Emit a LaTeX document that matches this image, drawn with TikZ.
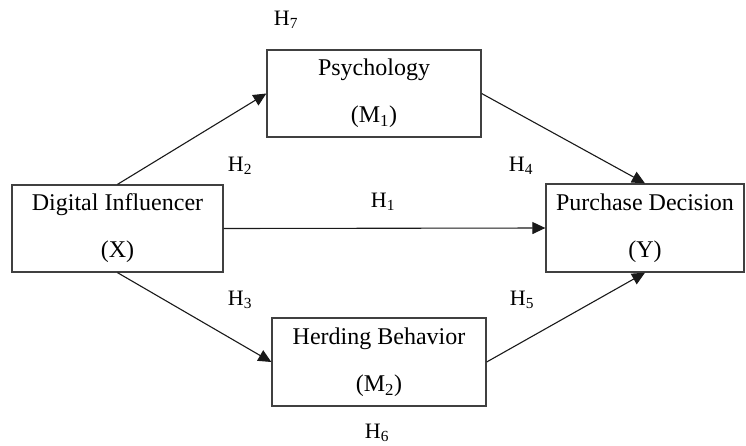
\documentclass[tikz,border=0pt]{standalone}
\usepackage{fontspec}
\setmainfont{Liberation Serif}
\usepackage{tikz}
\usetikzlibrary{arrows.meta}
\tikzset{var/.style={draw=black!75, line width=1.3pt, align=center, font=\fontsize{24}{29}\selectfont, inner sep=0pt},
  path/.style={draw=black!90, line width=1.1pt, -{Triangle[length=13pt,width=12pt]}},
  hyp/.style={font=\fontsize{22}{26}\selectfont, inner sep=0pt}}

\begin{document}
\begin{tikzpicture}[x=1pt, y=-1pt]
\useasboundingbox (0,0) rectangle (746,445);
 \node[var, minimum width=211pt, minimum height=87pt] (X) at (117.5,228.5) {Digital Influencer\\[18pt](X)};
 \node[var, minimum width=214pt, minimum height=87pt] (M1) at (374,93.5) {Psychology\\[18pt](M\textsubscript{1})};
 \node[var, minimum width=214pt, minimum height=88pt] (M2) at (379,362) {Herding Behavior\\[18pt](M\textsubscript{2})};
 \node[var, minimum width=198pt, minimum height=88pt] (Y) at (645,228) {Purchase Decision\\[18pt](Y)};
 \draw[path] (X.north) -- (M1.west);
 \draw[path] (M1.east) -- (Y.north);
 \draw[path] (X.east) -- (Y.west);
 \draw[path] (X.south) -- (M2.west);
 \draw[path] (M2.east) -- (Y.south);
 % hypothesis labels
 \node[hyp] (h1) at (383,202) {H\textsubscript{1}};
 \node[hyp] (h2) at (240,166) {H\textsubscript{2}};
 \node[hyp] (h3) at (240,300) {H\textsubscript{3}};
 \node[hyp] (h4) at (521,166) {H\textsubscript{4}};
 \node[hyp] (h5) at (522,300) {H\textsubscript{5}};
 \node[hyp] (h6) at (377,433) {H\textsubscript{6}};
 \node[hyp] (h7) at (286,20) {H\textsubscript{7}};
\end{tikzpicture}
\end{document}
